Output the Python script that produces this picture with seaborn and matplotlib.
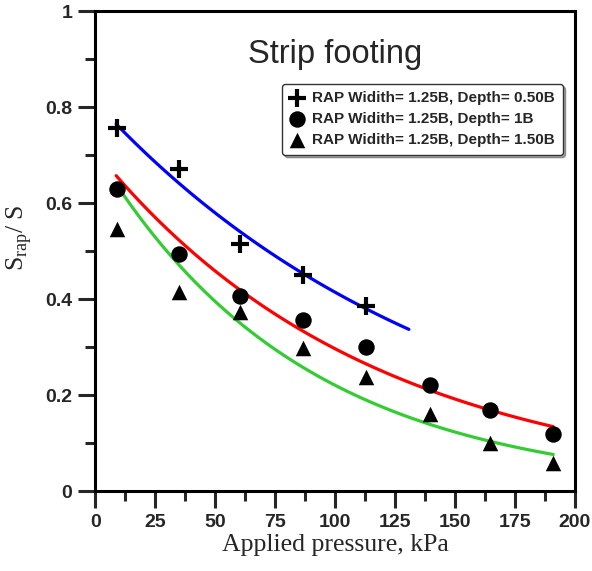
import numpy as np
import pandas as pd
import seaborn as sns
import matplotlib.pyplot as plt
from matplotlib.ticker import MultipleLocator

# applied pressure (kPa) of the test points
pressure = [9, 35, 60.5, 86.5, 113, 139.5, 164.5, 191]

# S_rap / S for each RAP depth
depth_050 = [0.756, 0.672, 0.516, 0.451, 0.386]
depth_100 = [0.630, 0.495, 0.407, 0.357, 0.301, 0.221, 0.169, 0.119]
depth_150 = [0.547, 0.416, 0.374, 0.298, 0.237, 0.160, 0.100, 0.059]

labels = ["RAP Widith= 1.25B, Depth= 0.50B",
          "RAP Widith= 1.25B, Depth= 1B",
          "RAP Widith= 1.25B, Depth= 1.50B"]

# x range covered by each exponential trend line
fit_start = [8.7, 8.7, 8.7]
fit_end = [130.8, 191, 191]

sns.set_theme(style="white")
plt.rcParams["font.family"] = ["Liberation Sans", "DejaVu Sans"]
plt.rcParams["mathtext.fontset"] = "custom"
plt.rcParams["mathtext.rm"] = "Liberation Serif"

fig = plt.figure(figsize=(5.92, 5.71), dpi=100)
ax = fig.add_axes([0.161, 0.140, 0.810, 0.840])

series = [depth_050, depth_100, depth_150]
markers = ["+", "o", "^"]
sizes = [170, 140, 125]
widths = [3.0, 0, 0]
colors = ["#0000ff", "#ff0000", "#33cc33"]

# exponential trend lines fitted to each series
for vals, c, x0, x1 in zip(series, colors, fit_start, fit_end):
    x = np.array(pressure[:len(vals)])
    b, a = np.polyfit(x, np.log(vals), 1)
    xs = np.linspace(x0, x1, 100)
    sns.lineplot(x=xs, y=np.exp(a + b * xs), color=c, lw=2.3, ax=ax,
                 legend=False)

for vals, lab, m, s, w in zip(series, labels, markers, sizes, widths):
    df = pd.DataFrame({"p": pressure[:len(vals)], "r": vals})
    sns.scatterplot(data=df, x="p", y="r", marker=m, s=s, color="black",
                    edgecolor="black", linewidth=w, label=lab, ax=ax,
                    zorder=3)

ax.set_xlim(0, 200)
ax.set_ylim(0, 1)
ax.xaxis.set_major_locator(MultipleLocator(25))
ax.xaxis.set_minor_locator(MultipleLocator(12.5))
ax.yaxis.set_minor_locator(MultipleLocator(0.1))
ax.set_yticks([0, 0.2, 0.4, 0.6, 0.8, 1])
ax.set_yticklabels(["0", "0.2", "0.4", "0.6", "0.8", "1"])

for sp in ax.spines.values():
    sp.set_color("black")
    sp.set_linewidth(2.2)
ax.tick_params(which="major", direction="out", length=12.5, width=2.2,
               labelsize=14, pad=4, left=True, bottom=True)
ax.tick_params(which="minor", direction="out", length=7, width=2.2,
               left=True, bottom=True)
for t in ax.get_xticklabels() + ax.get_yticklabels():
    t.set_fontweight("bold")

ax.set_xlabel("Applied pressure, kPa", family="Liberation Serif",
              fontsize=18.5, labelpad=2)
ax.set_ylabel(r"S$_{\mathrm{rap}}$/ S", family="Liberation Serif",
              fontsize=18.5)
ax.yaxis.set_label_coords(-0.128, 0.528)

ax.text(0.5, 0.893, "Strip footing", transform=ax.transAxes,
        ha="center", va="baseline", fontsize=23.5)

leg = ax.legend(loc="upper left", bbox_to_anchor=(0.389, 0.849),
                borderaxespad=0, fancybox=True, shadow=True,
                prop={"weight": "bold", "size": 11}, handletextpad=0.5,
                handlelength=1.0, labelspacing=0.45, borderpad=0.5,
                framealpha=1)
leg.get_frame().set_edgecolor("#333333")
leg.get_frame().set_linewidth(1.0)

fig.savefig("out.png", dpi=100)
